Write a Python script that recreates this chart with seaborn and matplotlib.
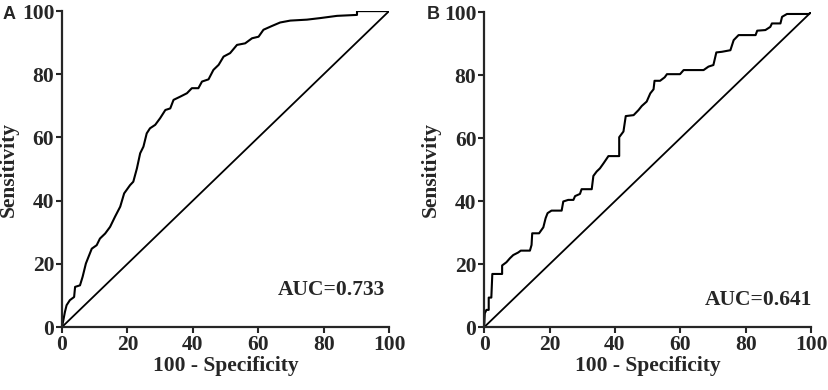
import numpy as np
import pandas as pd
import matplotlib
matplotlib.use('Agg')
import matplotlib.pyplot as plt
import seaborn as sns

# ROC curve A (100 - specificity, sensitivity)
fpr_a = [0, 0.9, 1.4, 2.4, 3.7, 4.0, 5.5, 6.3, 7.3, 8.1, 9.1, 10.6, 11.6, 13.2,
         14.7, 16.2, 17.8, 19.0, 20.8, 21.8, 22.9, 23.9, 24.9, 25.9, 26.9, 28.5,
         30.0, 31.6, 33.1, 34.1, 36.1, 38.2, 39.7, 41.7, 42.8, 44.8, 46.3, 47.9,
         49.4, 51.4, 53.5, 56.0, 58.1, 60.1, 61.6, 64.2, 66.7, 69.8, 74.9, 79.0,
         84.1, 90.2, 90.2, 100]
tpr_a = [0, 4.8, 6.9, 8.5, 9.5, 12.7, 13.2, 15.9, 20.1, 22.2, 24.8, 25.9, 28.0, 29.6,
         31.7, 34.9, 38.1, 42.3, 44.9, 46.0, 50.2, 55.0, 57.1, 61.3, 62.9, 64.0,
         66.1, 68.7, 69.2, 71.9, 72.9, 74.0, 75.6, 75.6, 77.7, 78.4, 81.4, 83.0,
         85.6, 86.7, 89.3, 89.8, 91.4, 91.9, 94.1, 95.3, 96.4, 97.0, 97.3, 97.8,
         98.5, 98.8, 100, 100]

# ROC curve B
fpr_b = [0, 0.2, 0.7, 1.4, 1.4, 2.2, 2.5, 5.5, 5.5, 6.8, 7.9, 8.9, 10.4, 11.2, 14.0,
         14.5, 14.7, 16.8, 18.1, 18.8, 19.4, 20.6, 23.7, 24.2, 25.7, 27.3, 27.8,
         29.3, 29.8, 32.9, 33.4, 34.4, 35.4, 36.5, 38.0, 41.3, 41.3, 42.6, 43.3,
         45.7, 47.2, 48.2, 49.7, 50.8, 51.8, 52.1, 53.8, 55.2, 55.9, 59.9, 61.0,
         67.1, 68.6, 70.1, 71.0, 72.7, 75.3, 76.3, 77.8, 83.0, 83.5, 86.0, 87.5,
         88.0, 90.6, 91.1, 92.6, 99.3, 100]
tpr_b = [0, 4.4, 5.5, 5.5, 9.4, 9.4, 16.9, 16.9, 19.6, 20.6, 21.9, 22.9, 23.7, 24.3,
         24.3, 26.1, 29.8, 29.8, 31.7, 34.6, 36.2, 37.0, 37.0, 39.9, 40.4, 40.4,
         41.6, 42.3, 43.8, 43.8, 48.0, 49.4, 50.4, 52.0, 54.3, 54.3, 60.3, 62.1,
         67.0, 67.3, 68.9, 70.2, 71.6, 74.2, 75.5, 78.2, 78.2, 79.3, 80.3, 80.3,
         81.6, 81.6, 82.7, 83.2, 87.2, 87.4, 87.9, 91.1, 92.7, 92.7, 94.1, 94.3,
         95.3, 96.4, 96.4, 98.5, 99.4, 99.4, 100]

diag = [0, 100]
panels = ['A', 'B']
auc_labels = ['AUC=0.733', 'AUC=0.641']
ticks = [0, 20, 40, 60, 80, 100]

sns.set_style('ticks')
plt.rcParams['font.family'] = ['Liberation Serif', 'DejaVu Serif']
plt.rcParams['font.weight'] = 'bold'

fig = plt.figure(figsize=(8.29, 3.9), dpi=100)
ax_a = fig.add_axes([0.0748, 0.1615, 0.3945, 0.810])
ax_b = fig.add_axes([0.5840, 0.1610, 0.3945, 0.808])

curves = [(fpr_a, tpr_a), (fpr_b, tpr_b)]
auc_pos = [(98.9, 11.6), (100.3, 8.7)]
letter_x = [0.003, 0.515]
fs = 15.5

for ax, (fx, ty), name, auc, (ax_x, ax_y), lx in zip(
        [ax_a, ax_b], curves, panels, auc_labels, auc_pos, letter_x):
    df = pd.DataFrame({'fpr': fx, 'tpr': ty})
    sns.lineplot(data=df, x='fpr', y='tpr', ax=ax, color='black', lw=1.5,
                 sort=False, estimator=None)
    sns.lineplot(x=diag, y=diag, ax=ax, color='black', lw=1.3)
    ax.set_xlim(0, 100)
    ax.set_ylim(0, 100)
    ax.set_xticks(ticks)
    ax.set_yticks(ticks)
    ax.set_xlabel('100 - Specificity', fontsize=fs, fontweight='bold', labelpad=1)
    ax.set_ylabel('Sensitivity', fontsize=fs, fontweight='bold', labelpad=2)
    ax.tick_params(labelsize=fs, width=1.5, length=4, pad=1.5)
    for lab in ax.get_xticklabels() + ax.get_yticklabels():
        lab.set_fontweight('bold')
    for s in ['left', 'bottom']:
        ax.spines[s].set_linewidth(1.6)
    sns.despine(ax=ax)
    ax.text(ax_x, ax_y, auc, ha='right', va='center', fontsize=fs, fontweight='bold')
    fig.text(lx, 0.962, name, ha='left', va='center', fontsize=13,
             fontweight='bold', family=['Liberation Sans', 'DejaVu Sans'])

fig.savefig('out.png', dpi=100)
